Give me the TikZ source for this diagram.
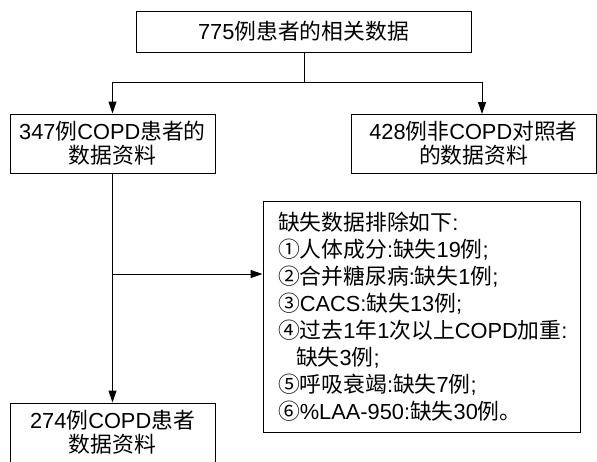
\documentclass[tikz,border=0pt]{standalone}
\usepackage{fontspec}
\setmainfont{Liberation Sans}
\newfontfamily\cjk{Noto Sans CJK SC}
\newcommand\C[1]{{\cjk #1}}
\usetikzlibrary{arrows.meta}
\begin{document}
\begin{tikzpicture}[x=1pt,y=-1pt,
  box/.style={draw, line width=1pt, inner sep=0pt, align=center, font=\fontsize{21.8}{24}\selectfont},
  arr/.style={line width=1pt, -{Triangle[length=12pt,width=8pt]}},
  ln/.style={line width=1pt}]
\useasboundingbox (0,0) rectangle (597,461);
\node[box, minimum width=335pt, minimum height=41pt] (top) at (303.5,31.5) {775\C{例患者的相关数据}};
\node[box, minimum width=205pt, minimum height=59pt] (copd) at (112.5,143.5) {347\C{例}COPD\C{患者的}\\\C{数据资料}};
\node[box, minimum width=245pt, minimum height=59pt] (ctrl) at (473.5,143.5) {428\C{例非}COPD\C{对照者}\\\C{的数据资料}};
\node[box, minimum width=205pt, minimum height=59pt] (res) at (112.5,432.5) {274\C{例}COPD\C{患者}\\\C{数据资料}};
\node[box, align=left, text width=287pt, inner xsep=15pt, inner ysep=0pt, minimum height=231pt, font=\fontsize{21.8}{27}\selectfont] (excl) at (421.5,316.5) {%
\C{缺失数据排除如下}:\\
\C{①人体成分}:\C{缺失}19\C{例};\\
\C{②合并糖尿病}:\C{缺失}1\C{例};\\
\C{③}CACS:\C{缺失}13\C{例};\\
\C{④过去}1\C{年}1\C{次以上}COPD\C{加重}:\\
\hspace*{18pt}\C{缺失}3\C{例};\\
\C{⑤呼吸衰竭}:\C{缺失}7\C{例};\\
\C{⑥}\%LAA-950:\C{缺失}30\C{例。}};
\coordinate (split) at (304,82);
\coordinate (rtarget) at (482,114);
\coordinate (branch) at (112,274);
\draw[ln] (top.south -| split) -- (split);
\draw[arr] (split) -| (copd.north);
\draw[arr] (split) -| (rtarget);
\draw[arr] (copd.south) -- (res.north);
\draw[arr] (branch) -- (excl.west |- branch);
\end{tikzpicture}
\end{document}
